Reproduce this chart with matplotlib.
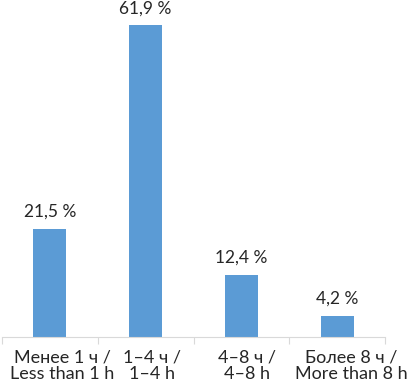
import matplotlib.pyplot as plt
import numpy as np

plt.rcParams['font.family'] = ['Lato', 'DejaVu Sans']

# data
categories = ['Менее 1 ч /\nLess than 1 h', '1–4 ч /\n1–4 h', '4–8 ч /\n4–8 h', 'Более 8 ч /\nMore than 8 h']
values = [21.5, 61.9, 12.4, 4.2]
value_labels = ['21,5 %', '61,9 %', '12,4 %', '4,2 %']

fig = plt.figure(figsize=(4.08, 3.85), dpi=100)
ax = fig.add_axes([2 / 408, 48 / 385, 383 / 408, 337 / 385])

x = np.arange(len(values))
bars = ax.bar(x, values, width=0.345, color='#5b9bd5')

for xi, v, lab in zip(x, values, value_labels):
    ax.annotate(lab, (xi, v), xytext=(0, 8.5), textcoords='offset points',
                ha='center', va='baseline', fontsize=12.5, color='#262626')

ax.set_xlim(-0.5, 3.5)
ax.set_ylim(0, 66.9)

# category labels (slightly right of centre, as in the original)
label_shift = [0.13, 0.07, 0.06, 0.15]
for xi, lab, dx in zip(x, categories, label_shift):
    ax.text(xi + dx, -2.5, lab, ha='center', va='top', fontsize=13,
            color='#262626', linespacing=1.05)

# bottom axis with ticks between categories
for s in ['top', 'right', 'left']:
    ax.spines[s].set_visible(False)
ax.spines['bottom'].set_color('#d9d9d9')
ax.set_yticks([])
ax.set_xticks(np.arange(-0.5, 4, 1))
ax.set_xticklabels([])
ax.tick_params(axis='x', length=5, color='#d9d9d9', direction='out')

fig.savefig('out.png', dpi=100)
